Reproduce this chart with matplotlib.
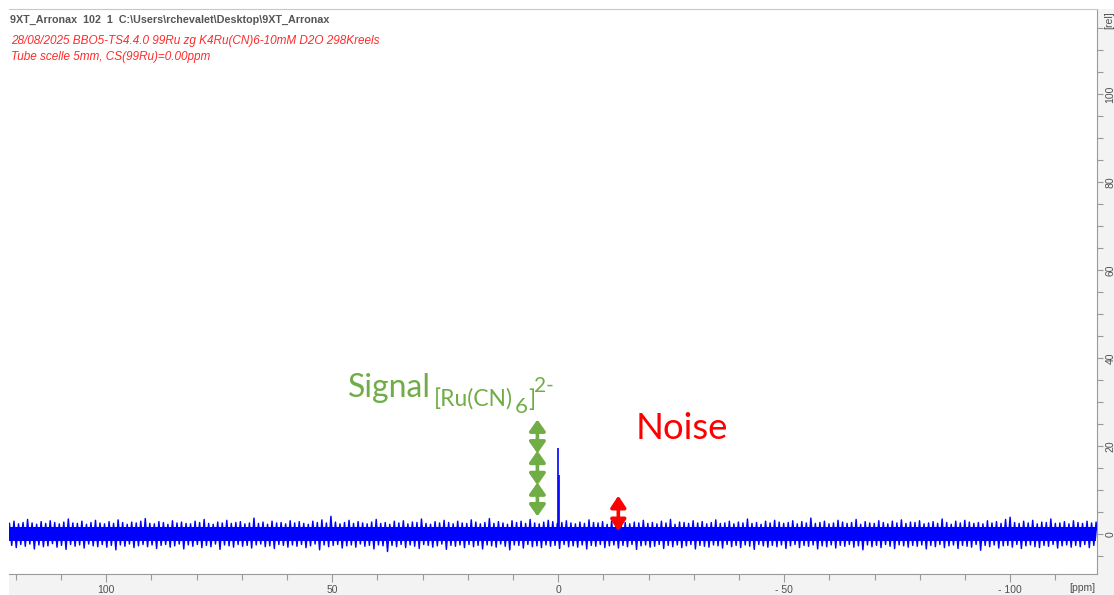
import numpy as np
import matplotlib
matplotlib.use("Agg")
import matplotlib.pyplot as plt
from matplotlib.patches import Rectangle
from matplotlib.ticker import FixedLocator, FixedFormatter, MultipleLocator

# ---------------- data ----------------
x_range = (121.5, -119.2)           # ppm, reversed axis
y_range = (-9.1, 119.3)             # rel
x_ticks = [100, 50, 0, -50, -100]
x_tick_labels = ["100", "50", "0", "- 50", "- 100"]
y_ticks = [0, 20, 40, 60, 80, 100]
y_tick_labels = ["0", "20", "40", "60", "80", "100"]

# noise envelope (max / min in consecutive 1-ppm bins, 121 -> -119 ppm)
noise_hi = [2.4, 2.9, 2.3, 2.6, 3.3, 2.5, 2.2, 2.8, 2.4, 3.0, 2.6, 2.3, 2.7, 3.4, 2.5, 2.4, 2.9, 2.2, 2.6, 3.1,
            2.5, 2.3, 2.8, 2.4, 3.2, 2.6, 2.2, 2.7, 2.5, 2.9, 3.5, 2.4, 2.3, 2.8, 2.6, 2.2, 3.0, 2.5, 2.7, 2.4,
            2.3, 2.9, 2.6, 3.3, 2.4, 2.2, 2.7, 2.5, 3.1, 2.4, 2.6, 2.8, 2.3, 2.5, 3.6, 2.4, 2.7, 2.2, 2.9, 2.5,
            2.6, 2.3, 3.0, 2.5, 2.8, 2.4, 2.2, 2.9, 2.6, 3.2, 2.5, 4.0, 2.7, 2.3, 2.6, 3.1, 2.4, 2.8, 2.5, 2.3,
            2.7, 3.3, 2.4, 2.6, 2.2, 2.9, 2.5, 3.0, 2.3, 2.7, 2.6, 3.4, 2.4, 2.2, 2.8, 2.5, 3.1, 2.6, 2.3, 2.9,
            2.5, 2.4, 3.2, 2.7, 2.3, 2.6, 3.5, 2.4, 2.8, 2.5, 2.2, 3.0, 2.6, 2.9, 2.4, 3.3, 2.5, 2.3, 2.7, 3.1,
            2.8, 2.4, 2.6, 3.0, 2.5, 2.3, 2.7, 2.4, 3.2, 2.6, 2.5, 2.8, 2.2, 2.9, 2.4, 3.0, 2.6, 2.3, 2.7, 2.5,
            3.1, 2.4, 2.6, 2.3, 2.9, 2.5, 3.3, 2.2, 2.7, 2.6, 2.4, 3.0, 2.5, 2.8, 2.3, 2.6, 3.2, 2.4, 2.5, 2.9,
            2.3, 2.7, 2.5, 3.4, 2.4, 2.6, 2.2, 2.9, 2.5, 3.1, 2.7, 2.4, 2.6, 3.0, 2.3, 2.8, 2.5, 3.6, 2.4, 2.6,
            2.9, 2.3, 2.5, 3.1, 2.7, 2.4, 2.6, 3.3, 2.2, 2.8, 2.5, 2.4, 3.0, 2.6, 2.3, 2.9, 2.5, 3.2, 2.4, 2.7,
            2.6, 3.0, 2.3, 2.5, 2.8, 2.4, 3.4, 2.6, 2.2, 2.9, 2.5, 3.1, 2.7, 2.4, 2.6, 2.3, 3.0, 2.5, 2.8, 2.4,
            3.3, 3.8, 2.6, 2.4, 2.9, 2.5, 3.1, 2.3, 2.7, 2.6, 3.4, 2.4, 2.5, 2.8, 2.3, 3.0, 2.6, 2.4, 2.9, 2.5,
            2.7]
noise_lo = [-2.6, -3.1, -2.4, -2.8, -2.3, -3.4, -2.5, -2.9, -2.7, -2.2, -3.0, -2.6, -3.5, -2.4, -2.8, -2.5, -3.2, -2.3, -2.7, -2.9,
            -2.4, -3.0, -2.6, -3.6, -2.5, -2.8, -2.3, -3.1, -2.7, -2.4, -2.9, -2.5, -3.3, -2.6, -2.4, -3.0, -2.7, -2.3, -3.4, -2.5,
            -2.8, -2.4, -3.1, -2.6, -2.9, -2.3, -3.5, -2.5, -2.7, -3.0, -2.4, -2.8, -2.6, -3.2, -2.5, -2.3, -2.9, -2.7, -3.3, -2.4,
            -2.6, -3.0, -2.5, -2.8, -2.4, -3.1, -2.7, -2.3, -3.6, -2.5, -2.9, -2.6, -2.4, -3.2, -2.7, -2.5, -3.0, -2.3, -2.8, -2.6,
            -3.4, -2.5, -2.7, -4.0, -2.6, -2.9, -2.4, -3.1, -2.5, -2.8, -3.3, -2.4, -2.6, -3.0, -2.7, -2.3, -3.5, -2.6, -2.8, -2.5,
            -3.1, -2.4, -2.9, -2.6, -3.4, -2.5, -2.7, -3.0, -2.3, -2.8, -3.6, -2.5, -2.6, -3.2, -2.4, -2.9, -2.7, -3.1, -2.5, -2.8,
            -2.6, -3.3, -2.4, -2.9, -2.7, -3.0, -2.5, -3.4, -2.6, -2.8, -2.4, -3.1, -2.7, -2.5, -3.2, -2.6, -2.9, -2.4, -3.5, -2.7,
            -2.5, -3.0, -2.8, -2.4, -3.3, -2.6, -2.9, -2.5, -3.1, -2.7, -2.4, -3.4, -2.6, -2.8, -3.0, -2.5, -2.7, -3.2, -2.4, -2.9,
            -2.6, -3.1, -2.5, -2.8, -3.5, -2.4, -2.7, -3.0, -2.6, -2.9, -2.5, -3.3, -2.7, -2.4, -3.1, -2.6, -2.8, -2.5, -3.4, -2.7,
            -2.9, -2.5, -3.2, -2.6, -2.8, -2.4, -3.0, -2.7, -3.6, -2.5, -2.9, -2.6, -3.1, -2.4, -2.8, -3.3, -2.5, -2.7, -3.0, -2.6,
            -2.8, -2.5, -3.4, -2.6, -2.9, -2.4, -3.1, -2.7, -2.5, -3.3, -2.6, -2.8, -3.0, -2.4, -3.7, -2.6, -2.9, -2.5, -3.2, -2.7,
            -2.6, -3.0, -2.4, -3.3, -2.7, -2.5, -2.9, -3.1, -2.6, -2.8, -2.4, -3.2, -2.7, -2.5, -3.0, -2.6, -2.9, -2.4, -3.1, -2.6,
            -2.8]
noise_ppm_start, noise_ppm_end = 121.4, -119.0
noise_core = 1.5                    # half-width of the dense part of the noise band

peak_ppm = [0.0, -0.2]
peak_height = [19.6, 13.4]

signal_arrows = [(4.6, 4.0, 11.7), (4.6, 11.1, 18.9), (4.6, 18.3, 26.0)]  # x, y0, y1
noise_arrow = (-13.3, 0.6, 8.7)

header = r"9XT_Arronax  102  1  C:\Users\rchevalet\Desktop\9XT_Arronax"
title_lines = ["28/08/2025 BBO5-TS4.4.0 99Ru zg K4Ru(CN)6-10mM D2O 298Kreels",
               "Tube scelle 5mm, CS(99Ru)=0.00ppm"]

# ---------------- figure ----------------
W, H = 1114, 595
fig = plt.figure(figsize=(W / 100, H / 100), dpi=100, facecolor="white")

def fx(x):
    return x / W

def fy(y):
    return 1 - y / H

L, R, T, B = 9, 1097, 9, 574
# gray strips for axis areas
fig.patches.append(Rectangle((fx(L), 0), fx(R) - fx(L), fy(B), transform=fig.transFigure,
                             facecolor="#f3f3f3", edgecolor="none", zorder=-5))
fig.patches.append(Rectangle((fx(R), 0), 1 - fx(R), fy(T), transform=fig.transFigure,
                             facecolor="#f3f3f3", edgecolor="none", zorder=-5))

ax = fig.add_axes([fx(L), fy(B), fx(R) - fx(L), fy(T) - fy(B)])
ax.set_zorder(1)
ax.set_facecolor("white")
ax.set_xlim(*x_range)
ax.set_ylim(*y_range)

# spectrum
n = len(noise_hi)
ppm = np.linspace(noise_ppm_start, noise_ppm_end, n)
step = (noise_ppm_start - noise_ppm_end) / (n - 1)
zx = np.empty(2 * n)
zy = np.empty(2 * n)
zx[0::2] = ppm
zx[1::2] = ppm - step / 2
zy[0::2] = noise_hi
zy[1::2] = noise_lo
ax.fill_between(ppm, -noise_core, noise_core, color="#0000ff", lw=0, zorder=2)
ax.plot(zx, zy, color="#0000ff", lw=1.05, zorder=3)
ax.vlines(peak_ppm, 0, peak_height, color="#0000ff", lw=1.2, zorder=4)

# arrows
for (x, y0, y1) in signal_arrows:
    ax.annotate("", xy=(x, y1), xytext=(x, y0),
                arrowprops=dict(arrowstyle="<|-|>,head_length=0.68,head_width=0.48",
                                color="#70ad47", lw=2.6, shrinkA=0, shrinkB=0), zorder=5)
x, y0, y1 = noise_arrow
ax.annotate("", xy=(x, y1), xytext=(x, y0),
            arrowprops=dict(arrowstyle="<|-|>,head_length=0.7,head_width=0.46",
                            color="#ff0000", lw=2.6, shrinkA=0, shrinkB=0), zorder=5)

# spines
ax.spines["left"].set_visible(False)
ax.spines["top"].set_color("#c8c8c8")
ax.spines["bottom"].set_color("#9a9a9a")
ax.spines["right"].set_color("#9a9a9a")
for s in ax.spines.values():
    s.set_linewidth(0.8)

ax.xaxis.set_major_locator(FixedLocator(x_ticks))
ax.xaxis.set_major_formatter(FixedFormatter(x_tick_labels))
ax.xaxis.set_minor_locator(MultipleLocator(10))
ax.yaxis.tick_right()
ax.yaxis.set_major_locator(FixedLocator(y_ticks))
ax.yaxis.set_major_formatter(FixedFormatter(y_tick_labels))
ax.yaxis.set_minor_locator(MultipleLocator(5))
ax.tick_params(axis="x", which="major", direction="out", length=6, width=0.8,
               color="#9a9a9a", labelcolor="#505050", labelsize=7.5, pad=2)
ax.tick_params(axis="x", which="minor", direction="out", length=4, width=0.8, color="#9a9a9a")
ax.tick_params(axis="y", which="major", direction="out", length=4, width=0.8,
               color="#9a9a9a", labelcolor="#505050", labelsize=7.5, pad=2,
               labelrotation=90, left=False, right=True)
ax.tick_params(axis="y", which="minor", direction="out", length=4, width=0.8,
               color="#9a9a9a", left=False, right=True)
for lab in ax.get_xticklabels() + ax.get_yticklabels():
    lab.set_fontfamily("Liberation Sans")
for lab in ax.get_yticklabels():
    lab.set_va("center")

fig.text(fx(1095), fy(588), "[ppm]", ha="right", va="center", color="#505050",
         fontsize=7.5, family="Liberation Sans")
fig.text(fx(1109), fy(20), "[rel]", ha="center", va="center", rotation=90, color="#505050",
         fontsize=7.5, family="Liberation Sans")

# header texts
fig.text(fx(10), fy(23), header, ha="left", va="baseline", color="#555555",
         fontsize=7.75, fontweight="bold", family="Liberation Sans")
fig.text(fx(11), fy(44), title_lines[0], ha="left", va="baseline", color="#ff2a2a",
         fontsize=8.5, style="italic", family="Liberation Sans")
fig.text(fx(11), fy(60), title_lines[1], ha="left", va="baseline", color="#ff2a2a",
         fontsize=8.5, style="italic", family="Liberation Sans")

# annotations
green = "#70ad47"
fam = "Lato"
fig.text(fx(348), fy(397), "Signal", ha="left", va="baseline", color=green, fontsize=23, family=fam)
fig.text(fx(434), fy(407), "[Ru(CN)", ha="left", va="baseline", color=green, fontsize=16.5, family=fam)
fig.text(fx(515), fy(413), "6", ha="left", va="baseline", color=green, fontsize=16, family=fam)
fig.text(fx(528), fy(407), "]", ha="left", va="baseline", color=green, fontsize=16.5, family=fam)
fig.text(fx(534), fy(392), "2-", ha="left", va="baseline", color=green, fontsize=15, family=fam)
fig.text(fx(636), fy(439), "Noise", ha="left", va="baseline", color="#ff0000", fontsize=26.3, family=fam)

fig.savefig("out.png", dpi=100, facecolor="white")
